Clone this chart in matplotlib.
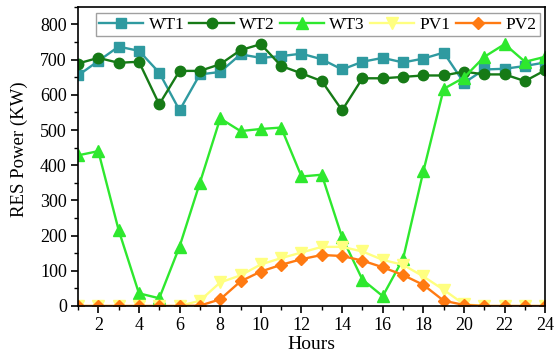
import numpy as np
import matplotlib
matplotlib.use('Agg')
import matplotlib.pyplot as plt
from matplotlib.ticker import MultipleLocator

plt.rcParams['font.family'] = ['Liberation Serif', 'DejaVu Serif']

# dados
horas = np.arange(1, 25)
wt1 = [655, 696, 737, 725, 663, 556, 658, 665, 715, 705, 710, 717,
       701, 672, 694, 705, 692, 703, 720, 634, 672, 674, 682, 692]
wt2 = [689, 705, 691, 694, 573, 668, 668, 687, 727, 744, 682, 661,
       639, 556, 647, 647, 651, 655, 655, 666, 658, 658, 639, 670]
wt3 = [428, 440, 216, 36, 22, 169, 350, 533, 497, 503, 507, 368,
       373, 195, 75, 28, 134, 383, 617, 649, 708, 744, 694, 708]
pv1 = [0, 0, 0, 0, 0, 0, 15, 67, 87, 118, 136, 152,
       168, 168, 155, 131, 117, 84, 46, 5, 0, 0, 0, 0]
pv2 = [0, 0, 0, 0, 0, 0, 1, 19, 70, 98, 117, 133,
       145, 142, 129, 110, 88, 60, 15, 3, 0, 0, 0, 0]

fig = plt.figure(figsize=(5.55, 3.6), dpi=100)
ax = fig.add_axes([0.1405, 0.15, 0.842, 0.831])

ax.plot(horas, wt1, '-', color='#2f9aa0', marker='s', markersize=7, lw=1.7, label='WT1')
ax.plot(horas, wt2, '-', color='#167a16', marker='o', markersize=7.5, lw=1.7, label='WT2')
ax.plot(horas, wt3, '-', color='#2ee82e', marker='^', markersize=8, lw=1.7, label='WT3')
ax.plot(horas, pv1, '-', color='#ffff80', marker='v', markersize=8, lw=1.7, label='PV1')
ax.plot(horas, pv2, '-', color='#ff7a12', marker='D', markersize=6.5, lw=1.7, label='PV2')

ax.set_xlim(1, 24)
ax.set_ylim(0, 850)
ax.xaxis.set_major_locator(MultipleLocator(2))
ax.xaxis.set_minor_locator(MultipleLocator(1))
ax.yaxis.set_major_locator(MultipleLocator(100))
ax.yaxis.set_minor_locator(MultipleLocator(50))
ax.tick_params(which='major', direction='out', length=5, width=1.2, labelsize=13, pad=3)
ax.tick_params(which='minor', direction='out', length=3, width=1.0)
for s in ax.spines.values():
    s.set_linewidth(1.2)

ax.set_xlabel('Hours', fontsize=14)
ax.set_ylabel('RES Power (KW)', fontsize=13.5)
ax.xaxis.set_label_coords(0.499, -0.1)
ax.yaxis.set_label_coords(-0.108, 0.525)

leg = ax.legend(loc='upper center', bbox_to_anchor=(0.513, 0.99), ncol=5, fontsize=12.5,
                frameon=True, fancybox=False, edgecolor='#888888', handlelength=2.55,
                columnspacing=0.3, handletextpad=0.3, borderpad=0.2, borderaxespad=0.2)
leg.get_frame().set_linewidth(1.0)

plt.savefig('out.png', dpi=100)
